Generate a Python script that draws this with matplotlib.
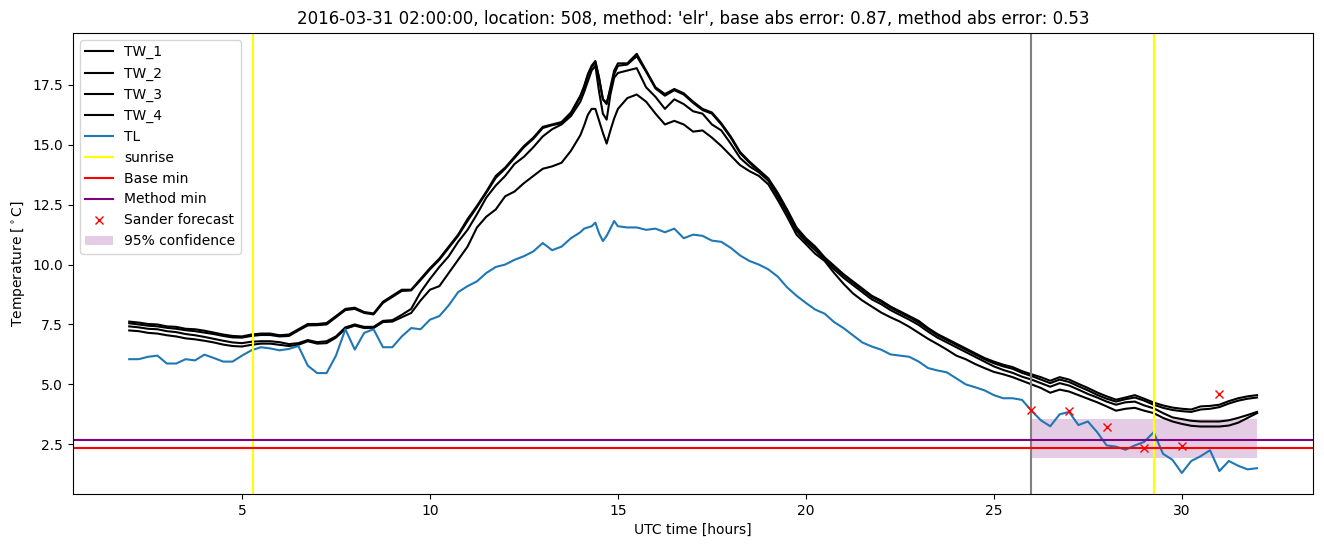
import numpy as np
import matplotlib
matplotlib.use("Agg")
import matplotlib.pyplot as plt

# time grid (hours UTC)
hours = (list(np.arange(2.0, 14.001, 0.25))
         + [14.1, 14.2, 14.3, 14.4, 14.5, 14.6, 14.7, 14.8, 14.9, 15.0]
         + list(np.arange(15.25, 32.001, 0.25)))

TW_1 = [7.62, 7.58, 7.52, 7.5, 7.42, 7.4, 7.32, 7.3, 7.24, 7.16, 7.08, 7.02, 7.0, 7.08, 7.12, 7.12,
        7.05, 7.08, 7.3, 7.52, 7.52, 7.56, 7.85, 8.15, 8.2, 8.02, 7.96, 8.45, 8.7, 8.95, 8.95, 9.4,
        9.85, 10.25, 10.75, 11.25, 11.9, 12.45, 13.05, 13.7, 14.05, 14.5, 14.95, 15.3, 15.75, 15.85,
        15.95, 16.35, 17.05,
        17.45, 17.95, 18.3, 18.5, 17.8, 16.9, 16.7, 17.4, 18.1, 18.4,
        18.4, 18.8, 18.1, 17.4, 17.12, 17.33, 17.15, 16.8, 16.5, 16.35, 15.9, 15.35, 14.7, 14.3,
        13.95, 13.6, 13.0, 12.3, 11.55, 11.1, 10.75, 10.3, 9.95, 9.6, 9.3, 9.0, 8.7, 8.5, 8.25,
        8.05, 7.85, 7.65, 7.35, 7.1, 6.9, 6.7, 6.5, 6.3, 6.1, 5.95, 5.82, 5.72, 5.55, 5.42, 5.3,
        5.15, 5.3, 5.2, 5.02, 4.85, 4.66, 4.5, 4.36, 4.45, 4.55, 4.4, 4.24, 4.12, 4.03, 3.98, 3.95,
        4.08, 4.1, 4.15, 4.3, 4.42, 4.5, 4.55]

TW_2 = [7.55, 7.5, 7.45, 7.42, 7.36, 7.32, 7.26, 7.22, 7.16, 7.1, 7.02, 6.96, 6.95, 7.02, 7.06, 7.06,
        7.0, 7.02, 7.25, 7.46, 7.47, 7.5, 7.8, 8.1, 8.15, 7.98, 7.92, 8.4, 8.65, 8.9, 8.92, 9.35,
        9.8, 10.2, 10.7, 11.2, 11.82, 12.4, 13.0, 13.62, 14.0, 14.45, 14.9, 15.25, 15.7, 15.82,
        15.9, 16.3, 17.0,
        17.4, 17.9, 18.25, 18.45, 17.75, 16.9, 16.75, 17.3, 17.95, 18.3,
        18.35, 18.7, 18.05, 17.35, 17.05, 17.28, 17.1, 16.75, 16.45, 16.3, 15.85, 15.3, 14.65,
        14.25, 13.9, 13.55, 12.95, 12.25, 11.5, 11.05, 10.7, 10.25, 9.9, 9.55, 9.25, 8.95, 8.65,
        8.45, 8.2, 8.0, 7.8, 7.58, 7.3, 7.05, 6.85, 6.65, 6.45, 6.25, 6.05, 5.88, 5.75, 5.65,
        5.48, 5.35, 5.2, 5.05, 5.2, 5.1, 4.92, 4.75, 4.56, 4.4, 4.28, 4.38, 4.45, 4.32, 4.15,
        4.02, 3.93, 3.88, 3.85, 3.95, 3.98, 4.05, 4.2, 4.32, 4.4, 4.45]

TW_3 = [7.42, 7.38, 7.32, 7.3, 7.22, 7.18, 7.1, 7.05, 6.98, 6.9, 6.82, 6.75, 6.72, 6.78, 6.8, 6.8,
        6.76, 6.68, 6.72, 6.85, 6.76, 6.8, 7.0, 7.38, 7.5, 7.4, 7.4, 7.65, 7.68, 7.9, 8.15, 8.85,
        9.4, 9.9, 10.35, 10.95, 11.45, 12.1, 12.8, 13.3, 13.7, 14.2, 14.5, 14.9, 15.35, 15.65,
        15.85, 16.2, 16.8,
        17.2, 17.65, 18.1, 18.3, 17.2, 16.3, 16.05, 17.1, 17.8, 18.0,
        18.1, 18.2, 17.4, 17.0, 16.5, 16.9, 16.7, 16.4, 16.3, 15.85, 15.6, 15.05, 14.45, 14.1,
        13.85, 13.5, 12.85, 12.15, 11.4, 10.95, 10.6, 10.2, 9.8, 9.45, 9.15, 8.85, 8.55, 8.35,
        8.1, 7.9, 7.7, 7.48, 7.2, 6.95, 6.75, 6.55, 6.35, 6.15, 5.95, 5.75, 5.6, 5.48, 5.32, 5.2,
        5.05, 4.9, 5.05, 4.95, 4.78, 4.6, 4.45, 4.28, 4.15, 4.25, 4.28, 4.12, 4.0, 3.8, 3.62,
        3.55, 3.48, 3.45, 3.45, 3.45, 3.5, 3.6, 3.72, 3.85]

TW_4 = [7.25, 7.22, 7.15, 7.12, 7.05, 7.0, 6.92, 6.88, 6.82, 6.75, 6.66, 6.6, 6.58, 6.65, 6.7, 6.7,
        6.65, 6.6, 6.65, 6.8, 6.7, 6.72, 6.95, 7.32, 7.45, 7.35, 7.35, 7.6, 7.62, 7.8, 7.98, 8.5,
        8.95, 9.1, 9.65, 10.2, 10.75, 11.55, 12.0, 12.3, 12.85, 13.05, 13.4, 13.7, 14.0, 14.1,
        14.25, 14.75, 15.4,
        15.8, 16.25, 16.5, 16.5, 16.0, 15.5, 15.05, 15.6, 16.1, 16.5,
        16.95, 17.1, 16.8, 16.3, 15.85, 16.0, 15.85, 15.55, 15.6, 15.3, 14.95, 14.55, 14.15, 13.9,
        13.7, 13.35, 12.7, 12.0, 11.25, 10.85, 10.45, 10.15, 9.65, 9.2, 8.8, 8.5, 8.25, 8.0, 7.8,
        7.62, 7.4, 7.15, 6.9, 6.68, 6.45, 6.2, 6.05, 5.85, 5.68, 5.52, 5.42, 5.3, 5.15, 5.0, 4.85,
        4.65, 4.78, 4.7, 4.55, 4.4, 4.25, 4.08, 3.9, 3.98, 4.02, 3.9, 3.8, 3.6, 3.45, 3.35, 3.27,
        3.24, 3.24, 3.24, 3.28, 3.4, 3.6, 3.8]

TL = [6.05, 6.05, 6.15, 6.2, 5.87, 5.87, 6.05, 6.0, 6.24, 6.1, 5.95, 5.95, 6.2, 6.42, 6.55, 6.5,
      6.42, 6.48, 6.6, 5.78, 5.47, 5.47, 6.2, 7.3, 6.45, 7.15, 7.3, 6.55, 6.55, 7.0, 7.35, 7.3,
      7.7, 7.85, 8.3, 8.85, 9.1, 9.3, 9.65, 9.9, 10.0, 10.2, 10.35, 10.55, 10.9, 10.6, 10.75,
      11.1, 11.35,
      11.5, 11.55, 11.6, 11.75, 11.3, 10.98, 11.2, 11.5, 11.82, 11.6,
      11.55, 11.55, 11.45, 11.5, 11.35, 11.5, 11.1, 11.25, 11.2, 11.0, 10.95, 10.7, 10.38, 10.15,
      10.0, 9.8, 9.5, 9.05, 8.7, 8.4, 8.12, 7.95, 7.6, 7.35, 7.05, 6.75, 6.58, 6.45, 6.25, 6.2,
      6.15, 5.95, 5.68, 5.58, 5.5, 5.25, 5.0, 4.88, 4.75, 4.55, 4.42, 4.42, 4.35, 3.9, 3.5, 3.25,
      3.75, 3.85, 3.3, 3.45, 3.0, 2.45, 2.4, 2.27, 2.45, 2.6, 3.0, 2.1, 1.85, 1.3, 1.8, 2.0,
      2.25, 1.38, 1.8, 1.6, 1.45, 1.5]

sunrise_hours = [5.29, 29.27]
forecast_start = 26.0
base_min = 2.36
method_min = 2.68
sander_hours = [26, 27, 28, 29, 30, 31]
sander_values = [3.94, 3.9, 3.24, 2.34, 2.43, 4.59]
conf_hours = [26.0, 32.0]
conf_low = [1.92, 1.92]
conf_high = [3.55, 3.55]

title = ("2016-03-31 02:00:00, location: 508, method: 'elr', "
         "base abs error: 0.87, method abs error: 0.53")

fig = plt.figure(figsize=(13.24, 5.47), dpi=100)
ax = fig.add_subplot(111)
fig.subplots_adjust(left=0.055, right=0.992, bottom=0.097, top=0.94)

for name, vals in [("TW_1", TW_1), ("TW_2", TW_2), ("TW_3", TW_3), ("TW_4", TW_4)]:
    ax.plot(hours, vals, color="black", label=name)
ax.plot(hours, TL, color="C0", label="TL")
ax.axvline(sunrise_hours[0], color="yellow", label="sunrise")
ax.axvline(sunrise_hours[1], color="yellow")
ax.axvline(forecast_start, color="gray")
ax.axhline(base_min, color="red", label="Base min")
ax.axhline(method_min, color="purple", label="Method min")
ax.plot(sander_hours, sander_values, "x", color="red", label="Sander forecast", linestyle="none")
ax.fill_between(conf_hours, conf_low, conf_high, color="purple", alpha=0.2,
                linewidth=0, label="95% confidence")

ax.set_title(title)
ax.set_xlabel("UTC time [hours]")
ax.set_ylabel(r"Temperature [$^\circ$C]")
ax.legend(loc="upper left")

fig.savefig("out.png", dpi=100)
